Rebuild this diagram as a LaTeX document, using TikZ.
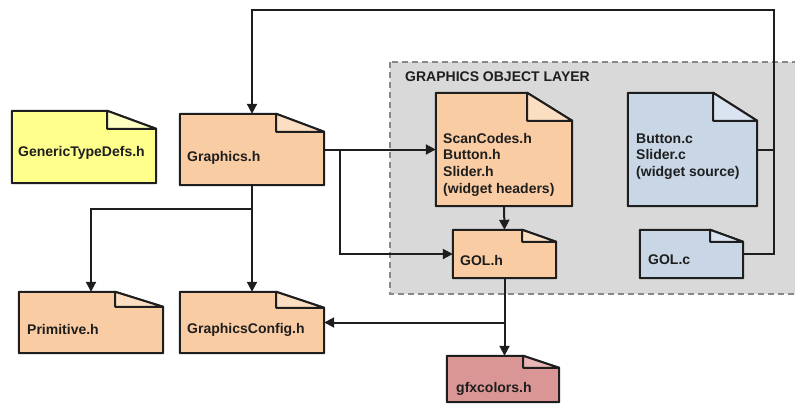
\documentclass[tikz,border=0pt]{standalone}
\usepackage{fontspec}
\setmainfont{Liberation Sans}
\usetikzlibrary{arrows.meta,positioning}

\definecolor{headerfill}{RGB}{250,204,164}
\definecolor{headerfold}{RGB}{252,222,194}
\definecolor{typefill}{RGB}{255,255,140}
\definecolor{typefold}{RGB}{255,255,196}
\definecolor{sourcefill}{RGB}{200,214,230}
\definecolor{sourcefold}{RGB}{218,228,240}
\definecolor{colorfill}{RGB}{218,150,148}
\definecolor{colorfold}{RGB}{232,182,180}
\definecolor{layerfill}{RGB}{217,217,217}
\definecolor{layerline}{RGB}{136,136,136}
\definecolor{inkcolor}{RGB}{30,30,30}

\begin{document}
\begin{tikzpicture}[x=1pt,y=-1pt,
    docline/.style={line width=2pt,draw=inkcolor,line join=round},
    doctext/.style={inner sep=0,text=inkcolor,font=\fontsize{14}{16.7}\selectfont\bfseries,align=left},
    docbox/.style={inner sep=0},
    link/.style={line width=2pt,draw=inkcolor},
    arrowlink/.style={link,-{Triangle[length=10pt,width=10pt]}}]
    \pgfmathsetmacro{\topline}{10}
    \pgfmathsetmacro{\rightline}{774}
    \providecommand{\foldeddoc}[5]{%
        \draw[docline,fill=#4] (#1.south west) -- (#1.north west) -- ([xshift=-#2pt]#1.north east)
            -- ([yshift=-#3pt]#1.north east) -- (#1.south east) -- cycle;
        \draw[docline,fill=#5] ([xshift=-#2pt]#1.north east) -- ([xshift=-#2pt,yshift=-#3pt]#1.north east)
            -- ([yshift=-#3pt]#1.north east) -- cycle;
    }
    \useasboundingbox (0,0) rectangle (795,405);

    % graphics object layer
    \draw[layerline,fill=layerfill,line width=1.3pt,dash pattern=on 6pt off 4pt] (390,62) rectangle (802,294);
    \node[doctext,anchor=west] (layertitle) at (405,77) {GRAPHICS OBJECT LAYER};

    % document boxes
    \node[docbox,minimum width=144pt,minimum height=72pt] (gendefs) at (84,147) {};
    \node[docbox,minimum width=144pt,minimum height=71pt] (graphics) at (252,149.5) {};
    \node[docbox,minimum width=136pt,minimum height=113pt] (widgeth) at (504,149.5) {};
    \node[docbox,minimum width=129pt,minimum height=113pt] (widgetc) at (692.5,149.5) {};
    \node[docbox,minimum width=103pt,minimum height=48pt] (golh) at (504.5,254) {};
    \node[docbox,minimum width=103pt,minimum height=48pt] (golc) at (691.5,254) {};
    \node[docbox,minimum width=144pt,minimum height=61pt] (primitive) at (91,322.5) {};
    \node[docbox,minimum width=144pt,minimum height=61pt] (gconfig) at (252,322.5) {};
    \node[docbox,minimum width=112pt,minimum height=46pt] (gfxcolors) at (503,379) {};

    \foreach \n/\fw/\fh/\fc/\fd in {gendefs/49/18/typefill/typefold,
        graphics/48/18/headerfill/headerfold, widgeth/45/28/headerfill/headerfold,
        widgetc/44/28/sourcefill/sourcefold, golh/34/12/headerfill/headerfold,
        golc/33/12/sourcefill/sourcefold, primitive/48/15/headerfill/headerfold,
        gconfig/48/16/headerfill/headerfold, gfxcolors/36/12/colorfill/colorfold}
        \foldeddoc{\n}{\fw}{\fh}{\fc}{\fd};

    % file names
    \node[doctext,anchor=west] (gendefs-t) at (18,153) {GenericTypeDefs.h};
    \node[doctext,anchor=west] (graphics-t) at (187,158) {Graphics.h};
    \node[doctext,anchor=west] (widgeth-t) at (443,164.5) {ScanCodes.h\\Button.h\\Slider.h\\(widget headers)};
    \node[doctext,anchor=west] (widgetc-t) at (636,156.5) {Button.c\\Slider.c\\(widget source)};
    \node[doctext,anchor=west] (golh-t) at (460,260) {GOL.h};
    \node[doctext,anchor=west] (golc-t) at (648,260) {GOL.c};
    \node[doctext,anchor=west] (primitive-t) at (27,329) {Primitive.h};
    \node[doctext,anchor=west] (gconfig-t) at (187,330) {GraphicsConfig.h};
    \node[doctext,anchor=west] (gfxcolors-t) at (456,389) {gfxcolors.h};

    % connectors
    \coordinate (loopcorner) at (\rightline,\topline);
    \coordinate (headersplit) at (340,149.5);
    \coordinate (configsplit) at (252,209);
    \draw[arrowlink] (golc.east) -| (loopcorner) -| (graphics.north);
    \draw[link] (widgetc.east) -- (widgetc.east -| loopcorner);
    \draw[arrowlink] (graphics.east) -- (widgeth.west);
    \draw[arrowlink] (headersplit) |- (golh.west);
    \draw[arrowlink] (widgeth.south) -- (golh.north);
    \draw[arrowlink] (graphics.south) -- (gconfig.north);
    \draw[arrowlink] (configsplit) -| (primitive.north);
    \draw[arrowlink] (golh.south) -- (golh.south |- gfxcolors.north);
    \draw[arrowlink] (golh.south |- gconfig.east) -- (gconfig.east);
\end{tikzpicture}
\end{document}
